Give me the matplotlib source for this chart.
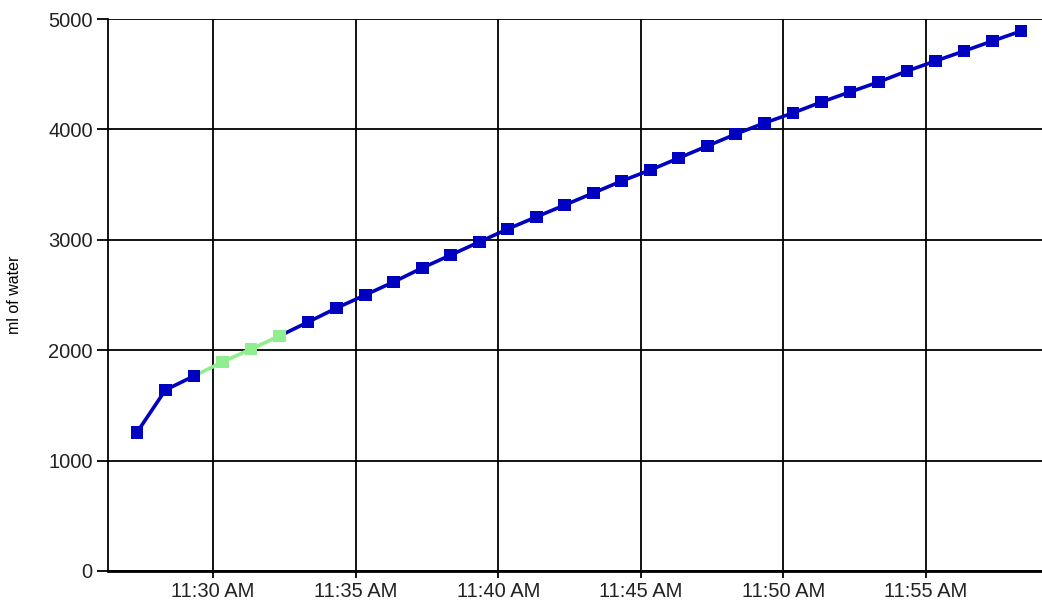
import datetime as dt
import matplotlib.pyplot as plt
import matplotlib.dates as mdates

# readings, one per minute
times = ['11:27:20', '11:28:20', '11:29:20', '11:30:20', '11:31:20', '11:32:20',
         '11:33:20', '11:34:20', '11:35:20', '11:36:20', '11:37:20', '11:38:20',
         '11:39:20', '11:40:20', '11:41:20', '11:42:20', '11:43:20', '11:44:20',
         '11:45:20', '11:46:20', '11:47:20', '11:48:20', '11:49:20', '11:50:20',
         '11:51:20', '11:52:20', '11:53:20', '11:54:20', '11:55:20', '11:56:20',
         '11:57:20', '11:58:20']
water_ml = [1255, 1640, 1766, 1893, 2011, 2129, 2255, 2382, 2500, 2618, 2745, 2862,
            2980, 3098, 3207, 3315, 3424, 3533, 3632, 3741, 3850, 3958, 4058, 4149,
            4248, 4339, 4429, 4529, 4620, 4710, 4801, 4891]
highlighted = [3, 4, 5]  # points drawn in green

blue = '#0000C0'
green = '#90EE90'

day = dt.date(2020, 1, 1)
x = [dt.datetime.combine(day, dt.datetime.strptime(t, '%H:%M:%S').time()) for t in times]

plt.rcParams['font.family'] = ['Liberation Sans', 'DejaVu Sans']

fig = plt.figure(figsize=(10.42, 6.06), dpi=100)
ax = fig.add_axes([0.1036, 0.0578, 0.8964, 0.9108])

# segments take the colour of the point they end on
for i in range(1, len(x)):
    c = green if i in highlighted else blue
    ax.plot(x[i-1:i+1], water_ml[i-1:i+1], color=c, lw=2.6, zorder=3, solid_capstyle='round')
cols = [green if i in highlighted else blue for i in range(len(x))]
ax.scatter(x, water_ml, marker='s', s=85, c=cols, zorder=4, linewidths=0)

ax.set_ylim(0, 5000)
ax.set_yticks(range(0, 5001, 1000))
ax.set_xlim(dt.datetime.combine(day, dt.time(11, 26, 19)),
            dt.datetime.combine(day, dt.time(11, 59, 4)))
ax.xaxis.set_major_locator(mdates.MinuteLocator(byminute=range(0, 60, 5)))
ax.xaxis.set_major_formatter(mdates.DateFormatter('%-I:%M %p'))

ax.grid(True, color='black', lw=1.3)
ax.set_axisbelow(True)
for s in ['top', 'right']:
    ax.spines[s].set_visible(False)
ax.spines['left'].set_linewidth(1.3)
ax.spines['bottom'].set_linewidth(2)
ax.tick_params(axis='y', length=8, width=1.3, pad=3, labelsize=14.5, labelcolor='#222222')
ax.tick_params(axis='x', length=5, width=1.3, pad=3, labelsize=14.5, labelcolor='#222222')
ax.set_ylabel('ml of water', fontsize=11.5)
ax.yaxis.set_label_coords(-0.092, 0.5)

fig.savefig('out.png', dpi=100)
